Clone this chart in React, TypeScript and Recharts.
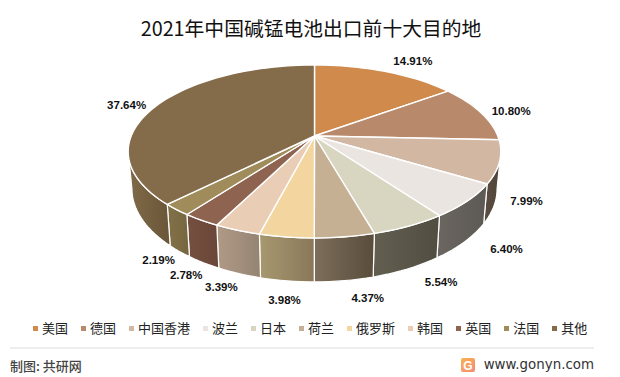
import React from 'react';
import { Pie, PieChart, Legend } from 'recharts';

const countries = ['美国', '德国', '中国香港', '波兰', '日本', '荷兰', '俄罗斯', '韩国', '英国', '法国', '其他'];
const shares = [14.91, 10.8, 7.99, 6.4, 5.54, 4.37, 3.98, 3.39, 2.78, 2.19, 37.64];
const topColors = ['#d08a4c', '#b8896b', '#d2b7a3', '#ebe5e1', '#d8d5c0', '#c5b094', '#f3d5a0', '#e9cdb5', '#8e6450', '#a08c5b', '#846c4a'];
const wallLight = ['#8a5c33', '#7b5b47', '#5c4d42', '#6b6660', '#625e50', '#7c6e5a', '#a8986f', '#b09a86', '#755040', '#827148', '#7f6a48'];
const wallDark = ['#8a5c33', '#7b5b47', '#4f4338', '#5c5854', '#514d41', '#594c3b', '#88785a', '#958473', '#694638', '#76663f', '#6a5638'];

// nudges from the rim point to where each percent label sits
const labelNudge = [[27, -11], [30, -2], [27, 1], [39, 7], [32, 13], [23, 17], [-2, 19], [-16, 13], [-15, 12], [-18, 9], [-29, -1]];

const W = 620;
const H = 377;
const CX = 314.5;
const CY = 136;
const RX = 183.3;
const RY = 83.7;
const PERSP = 0.179;
const DEPTH = 36.1;
const WALL_FROM = 100.3;
const WALL_TO = 259.7;

const CJK = '"Noto Sans CJK SC", "Noto Sans", sans-serif';

const topData = countries.map((name, i) => ({ name, value: shares[i], fill: topColors[i] }));
const wallData = countries.map((name, i) => ({ name, value: shares[i], fill: `url(#wall-${i})` }));

// theta runs clockwise from 12 o'clock, the disc is tilted with a little perspective
function rim(theta: number) {
  const rad = (theta * Math.PI) / 180;
  const w = 1 + PERSP * Math.cos(rad);
  return { x: CX + (RX * Math.sin(rad)) / w, y: CY - (RY * Math.cos(rad)) / w, w };
}

function rimBottom(theta: number) {
  const p = rim(theta);
  return { x: CX + (p.x - CX) * 0.98, y: p.y + DEPTH / p.w };
}

function arcPoints(from: number, to: number, fn: (t: number) => { x: number; y: number }) {
  const steps = Math.max(2, Math.ceil(Math.abs(to - from) / 2));
  const pts: string[] = [];
  for (let i = 0; i <= steps; i++) {
    const p = fn(from + ((to - from) * i) / steps);
    pts.push(`${p.x.toFixed(2)} ${p.y.toFixed(2)}`);
  }
  return pts;
}

function TopSlice(props: any) {
  const from = 90 - props.startAngle;
  const to = 90 - props.endAngle;
  const d = `M${CX} ${CY} L${arcPoints(from, to, rim).join(' L')} Z`;
  return <path d={d} fill={props.fill} stroke="#fff" strokeWidth={1.4} strokeLinejoin="round" />;
}

function WallSlice(props: any) {
  const from = Math.max(90 - props.startAngle, WALL_FROM);
  const to = Math.min(90 - props.endAngle, WALL_TO);
  if (to <= from) return null;
  const d = `M${arcPoints(from, to, rim).join(' L')} L${arcPoints(to, from, rimBottom).join(' L')} Z`;
  return <path d={d} fill={props.fill} stroke="#fff" strokeWidth={1.2} strokeLinejoin="round" />;
}

function PercentLabel(props: any) {
  const theta = 90 - props.midAngle;
  const p = rim(theta);
  const front = theta > WALL_FROM && theta < WALL_TO;
  const [dx, dy] = labelNudge[props.index];
  return (
    <text
      x={p.x + dx}
      y={p.y + (front ? DEPTH / p.w : 0) + dy}
      textAnchor="middle"
      dominantBaseline="central"
      fontFamily='"Liberation Sans", sans-serif'
      fontWeight="bold"
      fontSize={11.5}
      fill="#111"
    >
      {props.value.toFixed(2)}%
    </text>
  );
}

function LegendRow({ payload }: any) {
  // the wall pie also reports entries, only the top slices belong in the legend
  const items = (payload || []).filter((item: any) => !String(item.color).startsWith('url'));
  return (
    <div style={{ display: 'flex', paddingLeft: 33, fontFamily: CJK, fontSize: 13, lineHeight: '20px', color: '#222', whiteSpace: 'nowrap' }}>
      {items.map((item: any) => (
        <div key={item.value} style={{ display: 'flex', alignItems: 'center', marginRight: 13 }}>
          <span style={{ width: 5, height: 5, background: item.color, marginRight: 4 }} />
          {item.value}
        </div>
      ))}
    </div>
  );
}

export default function App() {
  return (
    <div style={{ position: 'absolute', left: 0, top: 0, width: W, height: H, background: '#fff' }}>
      <PieChart width={W} height={H} margin={{ top: 0, right: 0, bottom: 0, left: 0 }}>
        <defs>
          {countries.map((name, i) => (
            <linearGradient key={name} id={`wall-${i}`} x1="0" y1="0" x2="1" y2="0">
              <stop offset="0" stopColor={wallLight[i]} />
              <stop offset="1" stopColor={wallDark[i]} />
            </linearGradient>
          ))}
          <linearGradient id="logo" x1="0" y1="0" x2="1" y2="1">
            <stop offset="0" stopColor="#f8b24f" />
            <stop offset="1" stopColor="#f58a78" />
          </linearGradient>
        </defs>
        <text x={311} y={27} textAnchor="middle" dominantBaseline="central" fontFamily={CJK} fontSize={19.8} fill="#111">
          2021年中国碱锰电池出口前十大目的地
        </text>
        <Pie
          data={wallData}
          dataKey="value"
          nameKey="name"
          cx={CX}
          cy={CY}
          outerRadius={RX}
          startAngle={90}
          endAngle={-270}
          legendType="none"
          shape={WallSlice}
          label={false}
          isAnimationActive={false}
        />
        <Pie
          data={topData}
          dataKey="value"
          nameKey="name"
          cx={CX}
          cy={CY}
          outerRadius={RX}
          startAngle={90}
          endAngle={-270}
          shape={TopSlice}
          label={PercentLabel}
          labelLine={false}
          isAnimationActive={false}
        />
        <Legend content={LegendRow} itemSorter={null} wrapperStyle={{ left: 0, top: 318, width: W }} />
        <line x1={10} y1={348} x2={594} y2={348} stroke="#e8e8e8" strokeWidth={1.5} />
        <text x={10} y={365} dominantBaseline="central" fontFamily={CJK} fontWeight={500} fontSize={13} fill="#444">
          制图: 共研网
        </text>
        <rect x={461} y={358} width={14} height={14} rx={2} fill="url(#logo)" />
        <text x={468} y={365.5} textAnchor="middle" dominantBaseline="central" fontFamily='"Liberation Sans", sans-serif' fontWeight="bold" fontSize={12} fill="#fff">
          G
        </text>
        <text x={594} y={364} textAnchor="end" dominantBaseline="central" fontFamily='"DejaVu Sans", sans-serif' fontSize={13.4} fill="#333">
          www.gonyn.com
        </text>
      </PieChart>
    </div>
  );
}
